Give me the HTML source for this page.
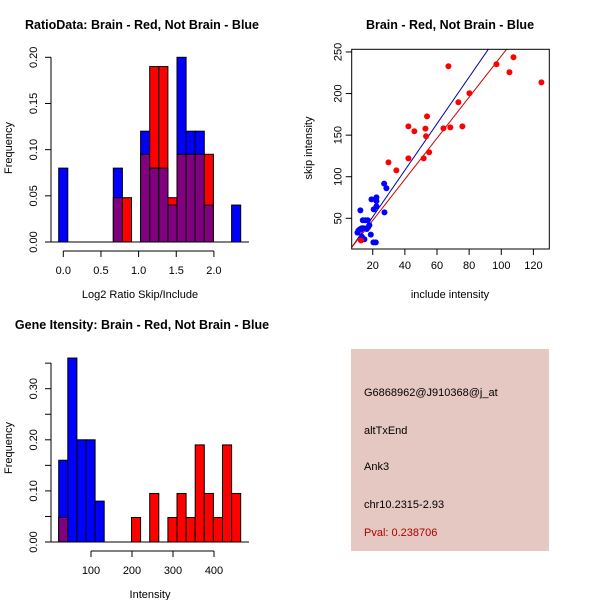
<!DOCTYPE html>
<html><head><meta charset="utf-8"><style>
body{margin:0;background:#fff}
svg{display:block;font-family:"Liberation Sans",sans-serif}
</style></head><body>
<svg id="s" width="600" height="600" viewBox="0 0 600 600" xmlns="http://www.w3.org/2000/svg">
<text x="142" y="29" font-size="12.5" font-weight="bold" text-anchor="middle">RatioData: Brain - Red, Not Brain - Blue</text>
<text x="140" y="298" font-size="11" text-anchor="middle">Log2 Ratio Skip/Include</text>
<text transform="translate(12,148) rotate(-90)" font-size="11" text-anchor="middle">Frequency</text>
<text x="450" y="29" font-size="12.5" font-weight="bold" text-anchor="middle">Brain - Red, Not Brain - Blue</text>
<text x="450" y="298" font-size="11" text-anchor="middle">include intensity</text>
<text transform="translate(312,148) rotate(-90)" font-size="11" text-anchor="middle">skip intensity</text>
<text x="142" y="329" font-size="12.5" font-weight="bold" text-anchor="middle">Gene Itensity: Brain - Red, Not Brain - Blue</text>
<text x="150" y="598" font-size="11" text-anchor="middle">Intensity</text>
<text transform="translate(12,448) rotate(-90)" font-size="11" text-anchor="middle">Frequency</text>
<g>
<rect x="351" y="349" width="198" height="202" fill="#e5c8c2"/>
<text x="364" y="396" font-size="11">G6868962@J910368@j_at</text>
<text x="364" y="434" font-size="11">altTxEnd</text>
<text x="364" y="470" font-size="11">Ank3</text>
<text x="364" y="508" font-size="11">chr10.2315-2.93</text>
<text x="364" y="536" font-size="11" fill="#b00000">Pval: 0.238706</text>
</g>
</svg>
<script>
// ---- Ratio histogram data ----
const ratioBins = [0,1,2,3,4,5,6,7,8,9,10,11,12,13,14,15,16,17,18,19];
const ratioBlue = [0.08,0,0,0,0,0,0.08,0,0,0.12,0.08,0.08,0.04,0.20,0.12,0.12,0.04,0,0,0.04];
const ratioRed  = [0,0,0,0,0,0,0.048,0.048,0,0.095,0.19,0.19,0.048,0.095,0.095,0.095,0.095,0,0,0];
const ratioXTicks = ["0.0","0.5","1.0","1.5","2.0"];
const ratioYTicks = ["0.00","0.05","0.10","0.15","0.20"];
// ---- Intensity histogram data ----
const intBlue = [0.16,0.36,0.20,0.20,0.08,0,0,0,0,0,0,0,0,0,0,0,0,0,0,0];
const intRed  = [0.048,0,0,0,0,0,0,0,0.048,0,0.095,0,0.048,0.095,0.048,0.19,0.095,0.048,0.19,0.095];
const intXTicks = ["100","200","300","400"];
const intYTicks = ["0.00","0.10","0.20","0.30"];
// ---- Scatter data ----
const blueX = [12.3,11.1,10.5,12.1,13.2,13.8,15.4,16.9,16.3,17.1,17.9,18.8,12.7,14.8,20.4,21.9,19.2,20.6,22.3,22.3,22.3,27.1,28.5,27.3,13.2,14.2];
const blueY = [59.6,35.2,32.8,36.8,38.0,47.6,47.6,47.6,37.2,39.2,41.6,30.4,23.5,24.8,21.1,21.1,72.8,60.8,64.4,75.2,70.8,91.7,86.1,57.2,28.0,38.0];
const redX = [29.8,34.7,42.2,45.9,42.2,51.7,52.8,53.8,53.2,55.1,67.1,64.0,68.3,73.3,75.8,80.2,97.0,105.1,107.6,125.0,12.7];
const redY = [117.3,107.7,160.6,154.6,122.1,122.1,157.8,172.6,148.6,129.4,232.8,158.2,159.4,189.5,160.6,200.3,235.2,225.6,243.6,213.5,23.5];
const blueFit = [2.80,-4.2];
const redFit = [2.47,-1.9];
const scXTicks = ["20","40","60","80","100","120"];
const scYTicks = ["50","100","150","200","250"];

const NS="http://www.w3.org/2000/svg", svg=document.getElementById('s');
function mk(tag,attrs,parent){const e=document.createElementNS(NS,tag);for(const k in attrs)e.setAttribute(k,attrs[k]);(parent||svg).appendChild(e);return e;}

function histogram(name,blue,red,x0,bw,yBase,yScale,xTicks,xTickPos,yTicks,yTickStep,yTop){
  const g=mk('g',{});
  
  
  const y=v=>yBase-v*yScale;
  for(let i=0;i<blue.length;i++){
    const b=blue[i],r=red[i],x=x0+i*bw;
    const hi=Math.max(b,r),lo=Math.min(b,r);
    if(hi>0){
      const bar=mk('rect',{x:x,y:y(hi),width:bw,height:hi*yScale,fill:b>=r?'#0000ff':'#ff0000',stroke:'#000','stroke-width':1},g);
      
      
    }
    if(lo>0){
      const ov=mk('rect',{x:x,y:y(lo),width:bw,height:lo*yScale,fill:'#800080',stroke:'#000','stroke-width':1},g);
      
      
    }
  }
  mk('line',{x1:51,x2:249,y1:yBase,y2:yBase,stroke:'#000'},g);
  const ax=mk('g',{},g);
  
  
  mk('line',{x1:51,x2:51,y1:yBase,y2:y(yTop),stroke:'#000'},ax);
  for(let v=0;v<=yTop+1e-9;v+=0.05){mk('line',{x1:45,x2:51,y1:y(v),y2:y(v),stroke:'#000'},ax);}
  yTicks.forEach((t,i)=>{const tt=mk('text',{transform:`translate(37,${y(i*yTickStep)}) rotate(-90)`,'font-size':11,'text-anchor':'middle'},ax);tt.textContent=t;});
  const xa=mk('g',{},g);
  
  
  const xs=xTickPos(0),xe=xTickPos(xTicks.length-1);
  mk('line',{x1:xs,x2:xe,y1:yBase+9,y2:yBase+9,stroke:'#000'},xa);
  xTicks.forEach((t,i)=>{const px=xTickPos(i);mk('line',{x1:px,x2:px,y1:yBase+9,y2:yBase+15,stroke:'#000'},xa);const tt=mk('text',{x:px,y:yBase+32,'font-size':11,'text-anchor':'middle'},xa);tt.textContent=t;});
}
histogram('ratio-histogram',ratioBlue,ratioRed,58.7,9.1,242,184.7/0.2,ratioXTicks,i=>63.3+i*0.5*75.3,ratioYTicks,0.05,0.2);
histogram('intensity-histogram',intBlue,intRed,58.7,9.1,542,153.3/0.3,intXTicks,i=>91+i*41,intYTicks,0.10,0.35);

const L=351.7,R=549.3,T=49.3,B=249;
const xmin=6.9,xmax=129.9,ymin=13.1,ymax=253.2;
const sx=v=>L+(v-xmin)/(xmax-xmin)*(R-L), sy=v=>B-(v-ymin)/(ymax-ymin)*(B-T);
const sg=mk('g',{});


const clip=mk('clipPath',{id:'scClip'},sg);mk('rect',{x:L,y:T,width:R-L,height:B-T},clip);
function fit(f,col,name){const ln=mk('line',{x1:sx(xmin),y1:sy(f[0]*xmin+f[1]),x2:sx(xmax),y2:sy(f[0]*xmax+f[1]),stroke:col,'stroke-width':1,'clip-path':'url(#scClip)'},sg);
  
  }
fit(blueFit,'#0000aa','blue-fit-line');fit(redFit,'#cc0000','red-fit-line');
blueX.forEach((v,i)=>{const c=mk('circle',{cx:sx(v),cy:sy(blueY[i]),r:3,fill:'#0000ff'},sg);
  
  });
redX.forEach((v,i)=>{const c=mk('circle',{cx:sx(v),cy:sy(redY[i]),r:3,fill:'#ff0000'},sg);
  
  });
const box=mk('rect',{x:L,y:T,width:R-L,height:B-T,fill:'none',stroke:'#000'},sg);


scXTicks.forEach(t=>{const px=sx(+t);mk('line',{x1:px,x2:px,y1:B,y2:B+6,stroke:'#000'},sg);const tt=mk('text',{x:px,y:B+20,'font-size':11,'text-anchor':'middle'},sg);tt.textContent=t;});
scYTicks.forEach(t=>{const py=sy(+t);mk('line',{x1:L-6,x2:L,y1:py,y2:py,stroke:'#000'},sg);const tt=mk('text',{transform:`translate(${L-10},${py}) rotate(-90)`,'font-size':11,'text-anchor':'middle'},sg);tt.textContent=t;});
</script>
</body></html>
